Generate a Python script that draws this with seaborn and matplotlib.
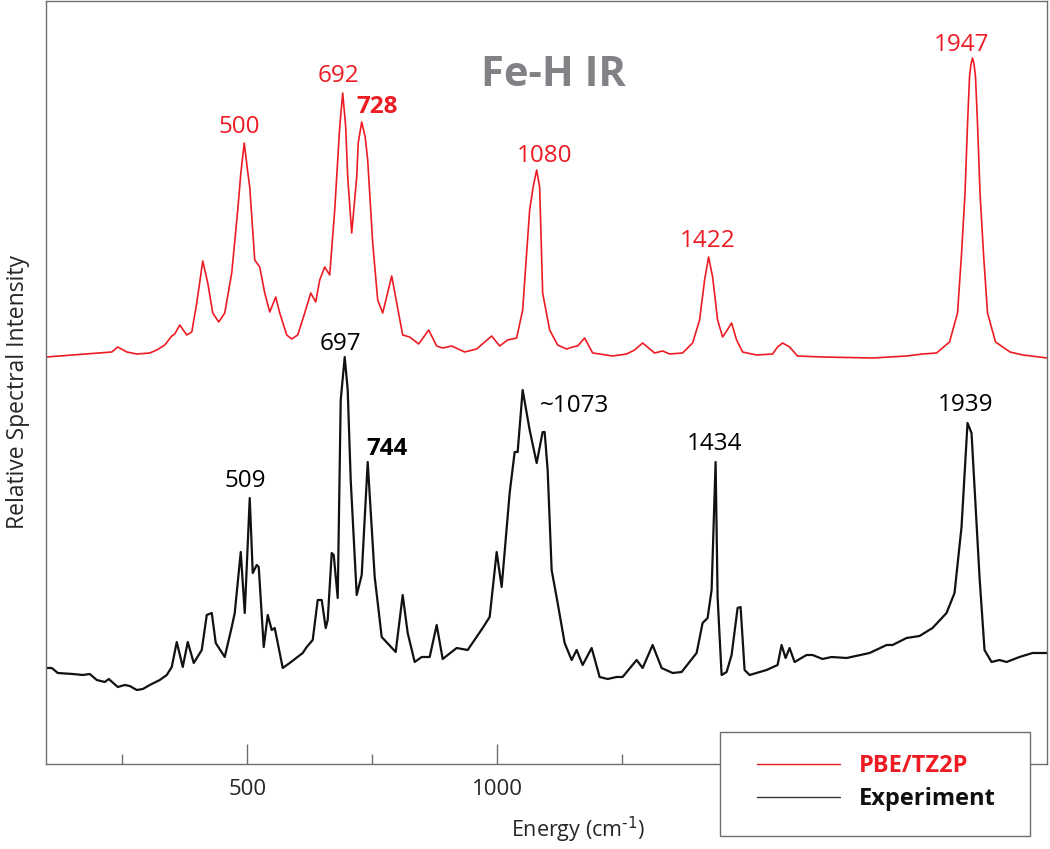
import pandas as pd
import seaborn as sns
import matplotlib.pyplot as plt
from matplotlib.lines import Line2D
from matplotlib.patches import Rectangle

# computed spectrum (PBE/TZ2P)
calc_energy = [98, 151, 205, 229, 241, 259, 279, 305, 319, 335, 349, 355, 365, 379, 389,
               399, 411, 421, 431, 443, 455, 469, 481, 487, 494, 501, 505, 515, 525, 535,
               545, 557, 565, 579, 589, 601, 615, 627, 637, 645, 655, 665, 675, 685, 691,
               697, 701, 709, 719, 722, 729, 736, 741, 751, 761, 771, 789, 799, 811, 825,
               843, 863, 879, 891, 909, 935, 959, 975, 989, 1005, 1021, 1039, 1051, 1065,
               1072, 1079, 1085, 1091, 1105, 1121, 1139, 1151, 1161, 1175, 1191, 1205,
               1231, 1259, 1275, 1291, 1315, 1331, 1345, 1371, 1391, 1405, 1415, 1423,
               1431, 1441, 1451, 1459, 1469, 1479, 1491, 1519, 1551, 1561, 1571, 1585,
               1601, 1651, 1751, 1819, 1851, 1879, 1905, 1921, 1929, 1936, 1941, 1945,
               1948, 1951, 1954, 1957, 1961, 1966, 1973, 1981, 1997, 2026, 2052, 2101]
calc_intensity = [407, 409, 411, 412, 417, 412, 410, 411, 414, 419, 428, 430, 439, 429, 432,
                  461, 503, 481, 451, 442, 451, 491, 554, 590, 621, 592, 577, 504, 497, 471,
                  452, 467, 451, 429, 425, 429, 451, 471, 462, 484, 497, 489, 554, 637, 671,
                  637, 587, 531, 587, 621, 642, 627, 604, 521, 464, 451, 488, 461, 429, 427,
                  420, 434, 418, 416, 418, 412, 415, 422, 428, 418, 424, 426, 454, 554,
                  577, 594, 577, 471, 434, 419, 415, 417, 418, 426, 411, 410,
                  408, 410, 414, 421, 411, 413, 410, 411, 421, 444, 484, 507,
                  487, 444, 427, 433, 441, 424, 412, 409, 410, 417, 421, 417,
                  408, 407, 406, 408, 410, 411, 422, 451, 510, 571, 640, 687,
                  700, 706, 700, 687, 640, 571, 510, 451, 422, 412, 409, 406]

# measured spectrum
exp_energy = [98, 109, 121, 151, 171, 185, 199, 215, 223, 241, 255, 265, 279, 291, 305,
              325, 339, 349, 359, 371, 381, 393, 409, 419, 429, 437, 455, 469, 475, 487,
              495, 505, 511, 519, 523, 533, 541, 549, 555, 571, 585, 611, 619, 631, 641,
              649, 657, 661, 669, 673, 681, 687, 695, 701, 707, 719, 729, 741, 755, 769,
              797, 811, 821, 835, 849, 865, 879, 891, 919, 941, 971, 985, 999, 1009, 1025,
              1035, 1041, 1051, 1065, 1079, 1091, 1095, 1101, 1109, 1121, 1135, 1149, 1159,
              1171, 1189, 1205, 1221, 1239, 1251, 1279, 1291, 1311, 1329, 1351, 1369, 1399,
              1411, 1421, 1429, 1437, 1441, 1449, 1459, 1469, 1481, 1487, 1495, 1505, 1539,
              1561, 1569, 1577, 1585, 1595, 1619, 1631, 1651, 1669, 1699, 1745, 1779, 1791,
              1819, 1845, 1871, 1899, 1915, 1929, 1941, 1949, 1965, 1975, 1989, 2005, 2019,
              2045, 2071, 2101]
exp_intensity = [96, 96, 91, 90, 89, 90, 84, 82, 85, 77, 79, 78, 74, 75, 79,
                 84, 89, 97, 122, 97, 122, 101, 114, 149, 151, 121, 107, 137, 151, 212,
                 151, 266, 191, 199, 197, 117, 149, 134, 136, 96, 101, 111, 117, 124, 164,
                 164, 136, 144, 211, 209, 166, 364, 407, 374, 284, 169, 189, 302, 187, 127,
                 112, 169, 131, 102, 107, 107, 139, 105, 116, 114, 136, 147, 212, 177, 271,
                 312, 312, 374, 334, 301, 332, 332, 294, 194, 161, 121, 104, 114,
                 99, 116, 87, 85, 87, 87, 104, 96, 119, 96, 91, 92, 111,
                 141, 146, 174, 302, 167, 89, 92, 109, 156, 157, 94, 89, 94,
                 99, 119, 106, 116, 102, 109, 109, 105, 107, 106, 111, 119, 119,
                 126, 128, 136, 151, 171, 237, 341, 331, 187, 114, 102, 104, 102,
                 107, 111, 111]

calc_labels = ['500', '692', '728', '1080', '1422', '1947']
exp_labels = ['509', '697', '744', '~1073', '1434', '1939']
series_names = ['PBE/TZ2P', 'Experiment']

RED = '#ed1c24'
BLACK = '#111111'
AXIS = '#6d6e71'


def make_df():
    calc = pd.DataFrame({'energy': calc_energy, 'intensity': calc_intensity,
                         'spectrum': series_names[0]})
    exp = pd.DataFrame({'energy': exp_energy, 'intensity': exp_intensity,
                        'spectrum': series_names[1]})
    return calc, exp


def main():
    sns.set_style('white')
    plt.rcParams['font.family'] = ['Open Sans', 'DejaVu Sans']
    plt.rcParams['mathtext.default'] = 'regular'

    calc, exp = make_df()

    fig = plt.figure(figsize=(10.5, 8.49), dpi=100)
    ax = fig.add_axes([46 / 1050, 85 / 849, 1001 / 1050, 763 / 849])

    sns.lineplot(data=calc, x='energy', y='intensity', color=RED, lw=1.2,
                 estimator=None, sort=False, ax=ax)
    sns.lineplot(data=exp, x='energy', y='intensity', color=BLACK, lw=1.6,
                 estimator=None, sort=False, ax=ax)

    ax.set_xlim(97.4, 2100)
    ax.set_ylim(0, 763)
    # 1500 and 2000 sit behind the legend box, so they carry no label
    ax.set_xticks([500, 1000, 1500, 2000])
    ax.set_xticklabels(['500', '1000', '', ''])
    ax.set_xticks([250, 750, 1250, 1750], minor=True)
    ax.set_yticks([])
    ax.set_xlabel('')
    ax.set_ylabel('')
    ax.tick_params(axis='x', which='major', direction='in', length=14.5, width=1,
                   color=AXIS, labelsize=16, pad=11, bottom=True)
    ax.tick_params(axis='x', which='minor', direction='in', length=7.2, width=1,
                   color=AXIS, bottom=True)
    for s in ax.spines.values():
        s.set_color(AXIS)
        s.set_linewidth(1)

    # peak labels
    calc_pos = [(485, 637), (683, 688), (759, 657), (1095, 608), (1421, 523), (1929, 719)]
    exp_pos = [(497, 283), (687, 420), (779, 315), (1155, 358), (1435, 320), (1937, 359)]
    for lab, (x, y) in zip(calc_labels, calc_pos):
        ax.text(x, y, lab, color=RED, fontsize=17.5, ha='center', va='center',
                fontweight='bold' if lab == '728' else 'normal')
    for lab, (x, y) in zip(exp_labels, exp_pos):
        ax.text(x, y, lab, color='black', fontsize=17.5, ha='center', va='center',
                fontweight='bold' if lab == '744' else 'normal')

    fig.text(553 / 1050, 1 - 75 / 849, 'Fe-H IR', color='#808285', fontsize=30,
             fontweight='bold', ha='center', va='center')
    fig.text(18 / 1050, 1 - 392 / 849, 'Relative Spectral Intensity', fontsize=16.5,
             rotation=90, ha='center', va='center')
    fig.text(578 / 1050, 1 - 830 / 849, r'Energy (cm$^{\text{-1}}$)', fontsize=15.5,
             ha='center', va='center')

    # legend box
    box = Rectangle((720 / 1050, 1 - 836 / 849), 310 / 1050, 104 / 849,
                    transform=fig.transFigure, facecolor='white', edgecolor=AXIS,
                    lw=1, zorder=3)
    fig.add_artist(box)
    handles = [Line2D([], [], color=RED, lw=1), Line2D([], [], color='#333333', lw=1)]
    leg = fig.legend(handles, series_names, loc='center left',
                     bbox_to_anchor=(757 / 1050, 1 - 782.5 / 849), frameon=False,
                     prop={'weight': 'bold', 'size': 17}, handlelength=3.5,
                     handletextpad=0.8, labelspacing=0.4, borderpad=0, borderaxespad=0)
    leg.set_zorder(5)
    for t, c in zip(leg.get_texts(), [RED, '#111111']):
        t.set_color(c)

    fig.savefig('out.png', dpi=100)


if __name__ == "__main__":
    main()
